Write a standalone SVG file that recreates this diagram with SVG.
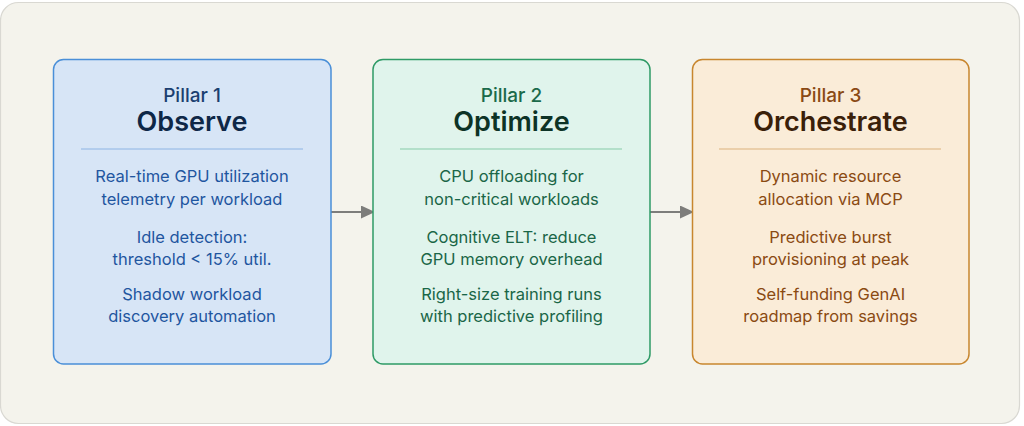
<svg xmlns="http://www.w3.org/2000/svg" width="1024" height="426" viewBox="0 0 1024 426">
<defs>
<style>
text{font-family:Inter,"Noto Sans","DejaVu Sans",sans-serif;text-anchor:middle}
.lbl{font-size:19px;font-weight:500}
.ttl{font-size:27px;font-weight:600}
.body{font-size:16.5px;font-weight:400}
.b1 .lbl{fill:#1b3f70}.b1 .ttl{fill:#0e2747}.b1 .body{fill:#1f56a0}
.b2 .lbl{fill:#1b6a4a}.b2 .ttl{fill:#0d3326}.b2 .body{fill:#1a6647}
.b3 .lbl{fill:#8a4a14}.b3 .ttl{fill:#3a2009}.b3 .body{fill:#8a4a12}
</style>
<marker id="ah" viewBox="0 0 14 13" refX="14" refY="6.5" markerWidth="14" markerHeight="13" markerUnits="userSpaceOnUse" orient="auto">
<path d="M0,0 L14,6.5 L0,13 z" fill="#7d7d7b"/>
</marker>
</defs>
<rect x="0" y="0" width="1024" height="426" fill="#ffffff"/>
<rect x="0.5" y="2.5" width="1019" height="421" rx="18" fill="#f4f3ec" stroke="#d9d8d2" stroke-width="1.2"/>
<g id="connectors" stroke="#7d7d7b" stroke-width="2" fill="none">
<line x1="331" y1="212" x2="375" y2="212" marker-end="url(#ah)"/>
<line x1="650" y1="212" x2="694" y2="212" marker-end="url(#ah)"/>
</g>
<g id="pillar1" class="b1">
<rect x="53.5" y="59.5" width="277.5" height="304.5" rx="10" fill="#d7e5f6" stroke="#4a8fd8" stroke-width="1.5"/>
<text class="lbl" x="192" y="102">Pillar 1</text>
<text class="ttl" x="192" y="131">Observe</text>
<line x1="81" y1="149" x2="303" y2="149" stroke="#8db4e4" stroke-width="1"/>
<text class="body" x="192" y="182">Real-time GPU utilization</text>
<text class="body" x="192" y="205">telemetry per workload</text>
<text class="body" x="192" y="243">Idle detection:</text>
<text class="body" x="192" y="265">threshold &lt; 15% util.</text>
<text class="body" x="192" y="300">Shadow workload</text>
<text class="body" x="192" y="322">discovery automation</text>
</g>
<g id="pillar2" class="b2">
<rect x="373" y="59.5" width="277" height="304.5" rx="10" fill="#e0f4ec" stroke="#2e9a66" stroke-width="1.5"/>
<text class="lbl" x="511.5" y="102">Pillar 2</text>
<text class="ttl" x="511.5" y="131">Optimize</text>
<line x1="400" y1="149" x2="622" y2="149" stroke="#86cba8" stroke-width="1"/>
<text class="body" x="511.5" y="182">CPU offloading for</text>
<text class="body" x="511.5" y="205">non-critical workloads</text>
<text class="body" x="511.5" y="243">Cognitive ELT: reduce</text>
<text class="body" x="511.5" y="265">GPU memory overhead</text>
<text class="body" x="511.5" y="300">Right-size training runs</text>
<text class="body" x="511.5" y="322">with predictive profiling</text>
</g>
<g id="pillar3" class="b3">
<rect x="692.5" y="59.5" width="276.5" height="304.5" rx="10" fill="#faecd8" stroke="#c8862e" stroke-width="1.5"/>
<text class="lbl" x="830.5" y="102">Pillar 3</text>
<text class="ttl" x="830.5" y="131">Orchestrate</text>
<line x1="719" y1="149" x2="941" y2="149" stroke="#dcb27c" stroke-width="1"/>
<text class="body" x="830.5" y="182">Dynamic resource</text>
<text class="body" x="830.5" y="205">allocation via MCP</text>
<text class="body" x="830.5" y="243">Predictive burst</text>
<text class="body" x="830.5" y="265">provisioning at peak</text>
<text class="body" x="830.5" y="300">Self-funding GenAI</text>
<text class="body" x="830.5" y="322">roadmap from savings</text>
</g>
</svg>
